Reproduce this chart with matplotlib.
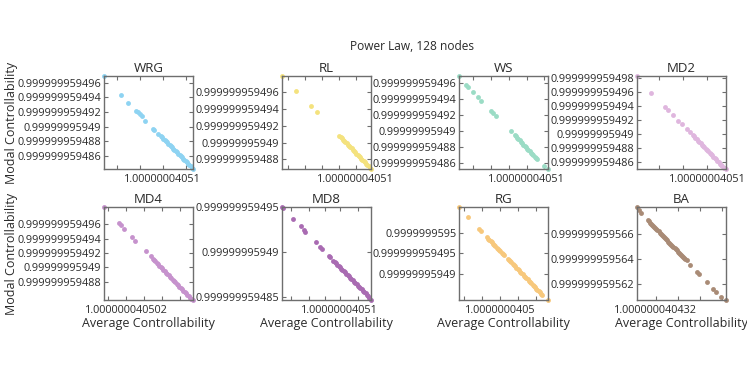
import matplotlib
matplotlib.use('Agg')
import matplotlib.pyplot as plt
from matplotlib.ticker import FixedLocator

plt.rcParams['font.family'] = ['Open Sans', 'DejaVu Sans']

# nomes dos modelos e cores
names = ['WRG', 'RL', 'WS', 'MD2', 'MD4', 'MD8', 'RG', 'BA']
colors = ['#8ed3f2', '#f4e27e', '#9bdcc5', '#dfb6de', '#c692cd', '#a96bb2', '#f7c87c', '#a98b76']

# pontos (x, y) em % da faixa de cada eixo
wrg_pts = [(0, 100), (18.7, 80.0), (27.3, 71.4), (36.3, 62.5), (37.8, 61.1), (40.1, 59.3),
           (42.3, 56.8), (46.4, 52.1), (55.1, 43.2), (56.2, 42.1), (61.0, 37.9), (63.7, 35.4),
           (65.2, 34.0), (66.5, 32.7), (68.1, 31.2), (69.4, 29.9), (70.8, 28.6), (72.3, 27.2),
           (73.6, 25.9), (75.0, 24.6), (76.4, 23.2), (77.9, 21.8), (79.2, 20.6), (80.6, 19.2),
           (82.1, 17.8), (83.4, 16.5), (84.9, 15.1), (86.2, 13.8), (87.6, 12.5), (89.1, 11.0),
           (90.4, 9.8), (91.8, 8.5), (93.3, 7.0), (94.6, 5.7), (96.0, 4.3), (97.4, 3.0),
           (98.7, 1.3), (100, 0)]
rl_pts = [(0, 100), (15.7, 83.7), (32.2, 67.5), (39.3, 60.8), (64.4, 35.7), (65.8, 34.3),
          (67.1, 33.0), (68.5, 31.6), (69.9, 30.2), (71.2, 28.9), (72.6, 27.5), (74.0, 26.2),
          (75.3, 24.8), (76.7, 23.4), (78.1, 22.1), (79.4, 20.7), (80.8, 19.3), (82.2, 18.0),
          (83.5, 16.6), (84.9, 15.2), (86.3, 13.9), (87.6, 12.5), (89.0, 11.1), (90.4, 9.8),
          (91.7, 8.4), (93.1, 7.1), (94.5, 5.7), (95.8, 4.3), (97.2, 3.0), (98.6, 1.6), (100, 0)]
ws_pts = [(0, 100), (8.2, 90.4), (10.0, 88.6), (15.2, 83.2), (21.2, 77.5), (24.9, 73.6),
          (36.4, 62.5), (38.3, 60.7), (41.3, 57.5), (58.4, 40.7), (62.5, 36.4), (63.9, 35.0),
          (65.3, 33.6), (66.7, 32.1), (68.1, 30.7), (69.6, 29.2), (71.0, 27.8), (72.4, 26.3),
          (73.8, 24.9), (75.2, 23.5), (76.6, 22.0), (78.0, 20.6), (79.5, 19.1), (80.9, 17.7),
          (82.3, 16.3), (83.7, 14.8), (85.1, 13.4), (86.6, 11.9), (88.1, 10.7), (95.2, 3.2),
          (100, 0)]
md2_pts = [(0, 100), (16.0, 82.1), (31.7, 66.8), (34.7, 63.9), (39.9, 58.6), (46.6, 52.1),
           (50.4, 48.9), (56.0, 43.2), (60.0, 39.3), (62.7, 36.4), (64.1, 35.0), (65.6, 33.5),
           (67.0, 32.0), (68.5, 30.6), (69.9, 29.1), (71.4, 27.7), (72.8, 26.2), (74.3, 24.8),
           (75.7, 23.3), (77.2, 21.9), (78.6, 20.4), (80.1, 19.0), (81.5, 17.5), (83.0, 16.1),
           (84.4, 14.6), (85.9, 13.2), (87.3, 11.7), (88.8, 10.3), (90.2, 8.8), (91.7, 7.4),
           (93.1, 5.9), (94.6, 4.5), (96.0, 3.0), (97.5, 1.6), (98.9, 0.7), (100, 0)]
md4_pts = [(0, 100), (16.9, 82.3), (18.7, 80.9), (22.8, 76.5), (31.8, 67.5), (35.2, 63.9),
           (46.8, 52.7), (52.4, 46.9), (54.7, 44.4), (56.2, 43.0), (57.7, 41.5), (59.2, 40.0),
           (60.7, 38.5), (62.2, 37.0), (63.7, 35.5), (65.2, 34.0), (66.7, 32.5), (68.2, 31.0),
           (69.7, 29.5), (71.2, 28.0), (72.7, 26.5), (74.2, 25.0), (75.7, 23.5), (77.2, 22.0),
           (78.7, 20.5), (80.2, 19.0), (81.7, 17.5), (83.2, 16.0), (84.7, 14.5), (86.2, 13.0),
           (87.7, 11.5), (89.2, 10.0), (90.7, 8.5), (92.2, 7.0), (93.7, 5.5), (95.2, 4.0),
           (96.7, 2.6), (98.2, 1.2), (100, 0)]
md8_pts = [(0, 100), (1.1, 99.3), (12.8, 87.4), (20.8, 79.8), (24.5, 75.5), (26.4, 73.6),
           (38.1, 62.1), (42.6, 57.0), (45.3, 54.5), (52.8, 47.3), (54.0, 45.8), (57.7, 42.2),
           (59.2, 40.8), (60.6, 39.4), (62.1, 38.0), (63.5, 36.6), (65.0, 35.2), (66.4, 33.8),
           (67.9, 32.4), (69.3, 31.0), (70.8, 29.6), (72.2, 28.2), (73.7, 26.8), (75.1, 25.4),
           (76.6, 24.0), (78.0, 22.6), (79.5, 21.2), (80.9, 19.8), (82.4, 18.3), (83.8, 16.9),
           (85.3, 15.5), (86.7, 14.1), (88.2, 12.7), (89.6, 11.3), (91.1, 9.9), (92.5, 8.5),
           (94.0, 7.0), (95.4, 5.6), (96.9, 4.2), (98.3, 2.6), (100, 0)]
rg_pts = [(0, 100), (10.0, 88.9), (22.3, 76.8), (24.9, 73.9), (31.2, 67.5), (32.6, 66.1),
          (34.0, 64.7), (35.4, 63.3), (36.8, 61.9), (38.2, 60.6), (39.6, 59.2), (41.0, 57.8),
          (42.4, 56.4), (43.8, 55.1), (45.2, 53.7), (46.6, 52.3), (48.0, 50.9), (49.3, 49.6),
          (50.6, 48.9), (54.6, 44.6), (56.0, 43.2), (57.4, 41.8), (58.8, 40.4), (60.2, 39.0),
          (61.6, 37.6), (63.0, 36.2), (64.4, 34.8), (65.8, 33.4), (67.2, 32.0), (68.6, 30.6),
          (70.0, 29.1), (71.4, 27.7), (72.8, 26.3), (74.2, 24.9), (75.6, 23.5), (77.0, 22.1),
          (78.4, 20.7), (79.8, 19.3), (81.2, 17.9), (82.6, 16.5), (84.0, 15.1), (85.4, 13.7),
          (86.8, 12.3), (88.2, 10.9), (89.6, 9.5), (91.0, 8.1), (92.4, 6.7), (93.7, 5.4),
          (100, 0)]
ba_pts = [(0, 100), (2.2, 97.1), (4.8, 93.2), (12.2, 85.7), (13.4, 84.5), (14.6, 83.3),
          (15.8, 82.1), (17.0, 80.9), (18.2, 79.7), (19.4, 78.5), (20.6, 77.3), (21.8, 76.1),
          (23.0, 74.9), (24.2, 73.7), (25.4, 72.5), (26.6, 71.3), (27.8, 70.1), (29.0, 68.9),
          (30.2, 67.7), (31.4, 66.5), (32.6, 65.3), (33.8, 64.1), (35.0, 62.9), (36.2, 61.7),
          (37.4, 60.5), (38.6, 59.3), (39.8, 58.1), (41.0, 56.9), (42.2, 55.7), (43.4, 54.5),
          (44.6, 53.3), (45.8, 52.1), (47.0, 50.9), (48.2, 49.7), (49.4, 48.5), (50.6, 47.3),
          (51.8, 46.1), (53.0, 44.9), (54.2, 43.7), (55.9, 42.5), (59.6, 37.1), (67.8, 30.0),
          (69.6, 27.5), (78.9, 18.9), (85.2, 12.1), (89.3, 8.6), (94.8, 3.2), (100, 0)]
all_pts = [wrg_pts, rl_pts, ws_pts, md2_pts, md4_pts, md8_pts, rg_pts, ba_pts]

# rotulos do eixo y (texto como saiu do MATLAB)
y_labels = [
    ['0.999999959496', '0.999999959494', '0.999999959492', '0.99999995949', '0.999999959488', '0.999999959486'],
    ['0.999999959496', '0.999999959494', '0.999999959492', '0.99999995949', '0.999999959488'],
    ['0.999999959496', '0.999999959494', '0.999999959492', '0.99999995949', '0.999999959488', '0.999999959486'],
    ['0.999999959498', '0.999999959496', '0.999999959494', '0.999999959492', '0.99999995949', '0.999999959488', '0.999999959486'],
    ['0.999999959496', '0.999999959494', '0.999999959492', '0.99999995949', '0.999999959488'],
    ['0.999999959495', '0.99999995949', '0.999999959485'],
    ['0.9999999595', '0.999999959495', '0.99999995949'],
    ['0.999999959566', '0.999999959564', '0.999999959562'],
]
x_labels = ['1.00000004051', '1.00000004051', '1.00000004051', '1.00000004051',
            '1.000000040502', '1.00000004051', '1.0000000405', '1.000000040432']

# posicoes dos ticks (% da faixa do eixo)
y_tick_pos = [
    [93, 77.2, 61.4, 45.6, 29.8, 14],
    [82.4, 64.4, 46.4, 28.4, 10.4],
    [93, 75.8, 58.5, 41.3, 24, 6.8],
    [97.5, 82.55, 67.6, 52.65, 37.7, 22.75, 7.8],
    [81.3, 65.9, 50.5, 35.1, 19.7],
    [99.6, 52, 3.5],
    [72.4, 50.2, 28],
    [70.6, 43.9, 17.2],
]
x_label_pos = [66, 83, 76, 79, 25, 65, 46, 21]
x_minor_pos = [
    [15, 40, 92],
    [7, 26, 45, 64],
    [16, 36, 56, 96],
    [25, 52],
    [5, 45, 65, 85],
    [10, 30, 48, 85],
    [6, 26, 66, 86],
    [46, 71, 96],
]

W, H = 747, 374
fig = plt.figure(figsize=(W / 100, H / 100), dpi=100)
txt_color = '#2a2a2a'
spine_color = '#6e6e6e'

lefts = [104, 282, 459, 637]
tops = [76, 207]
aw, ah = 89, 93

for i, name in enumerate(names):
    row, col = divmod(i, 4)
    l = lefts[col]
    t = tops[row]
    ax = fig.add_axes([l / W, (H - t - ah) / H, aw / W, ah / H])
    xs = [p[0] for p in all_pts[i]]
    ys = [p[1] for p in all_pts[i]]
    ax.plot(xs, ys, 'o', color=colors[i], markersize=3.5, markeredgewidth=0, clip_on=False)
    ax.set_xlim(0, 100)
    ax.set_ylim(0, 100)
    ax.set_yticks(y_tick_pos[i])
    ax.set_yticklabels(y_labels[i])
    ax.set_xticks([x_label_pos[i]])
    ax.set_xticklabels([x_labels[i]])
    ax.xaxis.set_minor_locator(FixedLocator(x_minor_pos[i]))
    ax.tick_params(which='both', direction='in', top=True, right=True, length=3,
                   width=0.8, color=spine_color, labelsize=7.8, labelcolor=txt_color, pad=2)
    ax.tick_params(axis='x', pad=3.5)
    for s in ax.spines.values():
        s.set_color(spine_color)
        s.set_linewidth(1.0)
    ax.set_title(name, fontsize=9.5, color=txt_color, pad=3)
    if row == 1:
        ax.set_xlabel('Average Controllability', fontsize=9, color=txt_color, labelpad=1)

# rotulo do eixo y para cada linha
for t in tops:
    fig.text(12 / W, 1 - (t + ah / 2) / H, 'Modal Controllability', rotation=90,
             ha='center', va='center', fontsize=9, color=txt_color)

fig.text(412 / W, 1 - 47 / H, 'Power Law, 128 nodes', ha='center', va='center',
         fontsize=8.6, color=txt_color)

fig.savefig('out.png', dpi=100)
